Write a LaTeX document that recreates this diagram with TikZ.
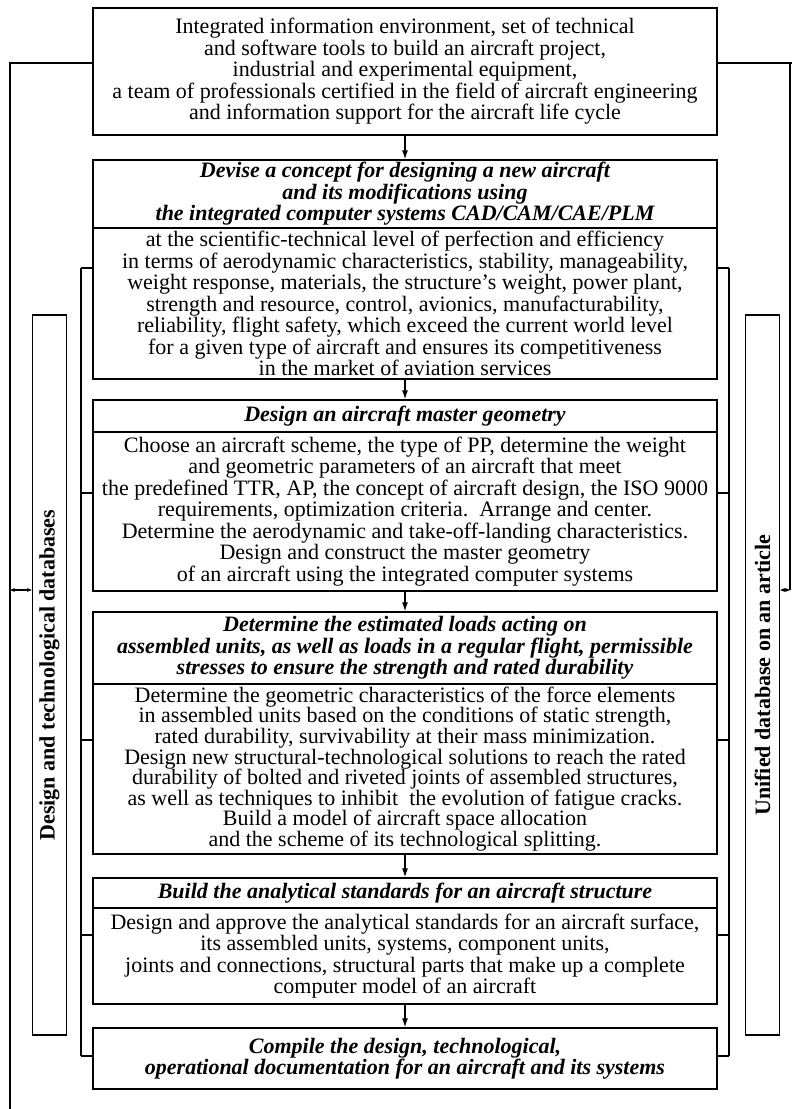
\documentclass[tikz,border=0pt]{standalone}
\usepackage{fontspec}
\setmainfont{Liberation Serif}
\usetikzlibrary{arrows.meta,positioning}

\tikzset{
  box/.style={draw, line width=1.4pt, inner sep=0pt, minimum width=624pt, align=center,
    font=\fontsize{22}{21.5}\selectfont},
  ttl/.style={box, font=\fontsize{22}{21.5}\selectfont\bfseries\itshape},
  dbbox/.style={draw, line width=1.4pt, inner sep=0pt, minimum width=34pt, minimum height=720pt},
  dbtext/.style={rotate=90, inner sep=0pt, font=\fontsize{22}{21.5}\selectfont\bfseries},
  flow/.style={line width=1.2pt, -{Latex[length=9pt,width=6pt]}},
  link/.style={line width=1.2pt}
}

\begin{document}
\begin{tikzpicture}[x=1pt,y=-1pt]
	\useasboundingbox (0,0) rectangle (792,1109);

	% main column
	\node[box, minimum height=127pt] (env) at (405,71.5) {Integrated information environment, set of technical\\
		and software tools to build an aircraft project,\\
		industrial and experimental equipment,\\
		a team of professionals certified in the field of aircraft engineering\\
		and information support for the aircraft life cycle};

	\node[ttl, minimum height=68pt] (t1) at (405,194) {Devise a concept for designing a new aircraft\\
		and its modifications using\\
		the integrated computer systems CAD/CAM/CAE/PLM};
	\node[box, minimum height=151pt] (b1) at (405,303.5) {at the scientific-technical level of perfection and efficiency\\
		in terms of aerodynamic characteristics, stability, manageability,\\
		weight response, materials, the structure's weight, power plant,\\
		strength and resource, control, avionics, manufacturability,\\
		reliability, flight safety, which exceed the current world level\\
		for a given type of aircraft and ensures its competitiveness\\
		in the market of aviation services};

	\node[ttl, minimum height=32pt] (t2) at (405,416) {Design an aircraft master geometry};
	\node[box, minimum height=159pt] (b2) at (405,511.5) {Choose an aircraft scheme, the type of PP, determine the weight\\
		and geometric parameters of an aircraft that meet\\
		the predefined TTR, AP, the concept of aircraft design, the ISO 9000\\
		requirements, optimization criteria.\ \ Arrange and center.\\
		Determine the aerodynamic and take-off-landing characteristics.\\
		Design and construct the master geometry\\
		of an aircraft using the integrated computer systems};

	\node[ttl, minimum height=72pt] (t3) at (405,648) {Determine the estimated loads acting on\\
		assembled units, as well as loads in a regular flight, permissible\\
		stresses to ensure the strength and rated durability};
	\node[box, minimum height=170pt, font=\fontsize{22}{20.6}\selectfont] (b3) at (405,769) {Determine the geometric characteristics of the force elements\\
		in assembled units based on the conditions of static strength,\\
		rated durability, survivability at their mass minimization.\\
		Design new structural-technological solutions to reach the rated\\
		durability of bolted and riveted joints of assembled structures,\\
		as well as techniques to inhibit\ \ the evolution of fatigue cracks.\\
		Build a model of aircraft space allocation\\
		and the scheme of its technological splitting.};

	\node[ttl, minimum height=30pt] (t4) at (405,893) {Build the analytical standards for an aircraft structure};
	\node[box, minimum height=96pt] (b4) at (405,956) {Design and approve the analytical standards for an aircraft surface,\\
		its assembled units, systems, component units,\\
		joints and connections, structural parts that make up a complete\\
		computer model of an aircraft};

	\node[ttl, minimum height=61pt] (t5) at (405,1058.5) {Compile the design, technological,\\
		operational documentation for an aircraft and its systems};

	\draw[flow] (env.south) -- (t1.north);
	\draw[flow] (b1.south) -- (t2.north);
	\draw[flow] (b2.south) -- (t3.north);
	\draw[flow] (b3.south) -- (t4.north);
	\draw[flow] (b4.south) -- (t5.north);

	% databases
	\node[dbbox] (dbL) at (49.5,675) {};
	\node[dbbox] (dbR) at (762.5,675) {};
	\node[dbtext] (dbLtext) at (dbL) {Design and technological databases};
	\node[dbtext] (dbRtext) at (dbR) {Unified database on an article};

	% inner links
	\coordinate (iL) at (81,268);
	\coordinate (iR) at (729,268);
	\draw[link] (iL) -- (81,1056);
	\draw[link] (iR) -- (729,1056);
	\foreach \yy/\nd in {268/b1,493/b2,740/b3,935/b4,1056/t5}{
		\draw[link] (81,\yy) -- (81,\yy -| \nd.west);
		\draw[link] (729,\yy) -- (729,\yy -| \nd.east);
	}

	% outer links
	\coordinate (oL) at (10,63);
	\coordinate (oR) at (790,63);
	\draw[link] (oL -| env.west) -- (oL) -- (10,1109);
	\draw[link] (oR -| env.east) -- (792,63);
	\draw[link] (oR) -- (790,590);
	\draw[link, {Stealth[length=5pt,width=4pt]}-{Stealth[length=5pt,width=4pt]}] (10,590) -- (10,590 -| dbL.west);
	\draw[link, {Stealth[length=5pt,width=4pt]}-{Stealth[length=5pt,width=4pt]}] (dbR.east |- 0,590) -- (790,590);
\end{tikzpicture}
\end{document}
